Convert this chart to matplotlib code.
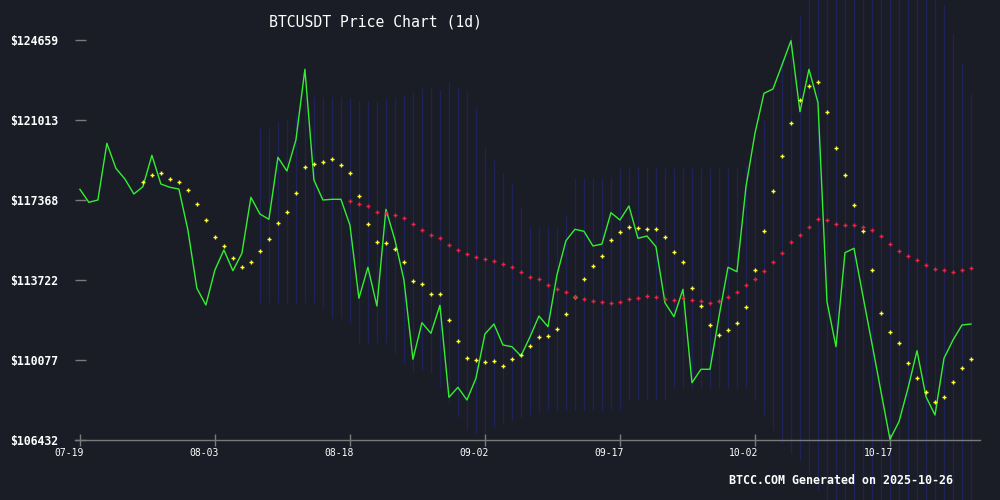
import numpy as np
import pandas as pd
import matplotlib
matplotlib.use("Agg")
import matplotlib.pyplot as plt
import matplotlib.dates as mdates
import matplotlib.transforms as mtransforms

# daily closes 2025-07-19 .. 2025-10-26
close = [117856, 117263, 117368, 119952, 118813, 118325, 117642, 117974, 119405, 118097,
         117947, 117869, 116001, 113345, 112584, 114178, 115090, 114147, 114940, 117491,
         116730, 116489, 119314, 118690, 120102, 123324, 118280, 117368, 117400, 117400,
         116229, 112889, 114302, 112538, 116944, 115546, 113723, 110109, 111777, 111294,
         112570, 108378, 108833, 108255, 109244, 111262, 111718, 110761, 110684, 110260,
         111126, 112082, 111595, 113951, 115514, 116033, 115942, 115272, 115363, 116790,
         116457, 117095, 115623, 115728, 115240, 112688, 112051, 113299, 109043, 109654,
         109654, 112051, 114302, 114101, 117974, 120408, 122230, 122426, 123520, 124627,
         121392, 123324, 121802, 112734, 110684, 114967, 115167, 112980, 110820, 108633,
         106464, 107266, 108788, 110501, 108405, 107571, 110155, 110989, 111672, 111718]

# short moving average (yellow), starts on day 7
ma_short = [118175, 118494, 118585, 118312, 118175, 117810, 117172, 116443, 115669, 115258,
            114712, 114302, 114529, 115031, 115577, 116307, 116808, 117674, 118858, 118995,
            119086, 119223, 118949, 118585, 117537, 116261, 115441, 115395, 115122, 114529,
            113664, 113527, 113071, 113071, 111886, 110930, 110155, 110064, 109973, 110018,
            109790, 110109, 110292, 110715, 111112, 111157, 111476, 112160, 112948, 113755,
            114347, 114803, 115532, 115896, 116124, 116079, 116033, 116033, 115669, 114985,
            114529, 113345, 112524, 111659, 111203, 111431, 111750, 112479, 114178, 115942,
            117765, 119360, 120863, 121911, 122549, 122732, 121365, 119724, 118494, 117127,
            115942, 114178, 112205, 111340, 110838, 109927, 109244, 108606, 108150, 108378,
            109061, 109699, 110109]

# long moving average (red), starts on day 30
ma_long = [117309, 117172, 117081, 116808, 116790, 116671, 116534, 116261, 115987, 115760,
           115623, 115304, 115076, 114894, 114757, 114666, 114575, 114438, 114302, 114074,
           113882, 113755, 113481, 113299, 113162, 112935, 112843, 112752, 112707, 112661,
           112707, 112843, 112889, 112980, 112935, 112843, 112798, 112889, 112798, 112752,
           112661, 112752, 112935, 113162, 113481, 113777, 114119, 114529, 114940, 115441,
           115760, 116124, 116489, 116443, 116261, 116215, 116215, 116124, 115987, 115714,
           115350, 115031, 114803, 114620, 114393, 114210, 114165, 114074, 114165, 114256]

# band (blue vertical lines), starts on day 20
band_upper = [120649, 120649, 120922, 121014, 121241, 122062, 122062, 122062, 122062, 122062,
              122016, 121879, 121879, 121879, 122016, 122016, 122153, 122244, 122472, 122472,
              122381, 122745, 122517, 122289, 121560, 119783, 119191, 118599, 118143, 117049,
              116138, 116138, 116138, 116138, 116685, 118371, 118371, 118371, 118371, 118371,
              118826, 118826, 118826, 118826, 118826, 118826, 118826, 118826, 118826, 118826,
              118826, 118826, 118826, 118826, 118963, 119647, 121014, 122381, 123748, 124887,
              125798, 127393, 127393, 127393, 127393, 127393, 127393, 127393, 127393, 127393,
              127393, 127393, 127393, 127393, 127393, 127393, 126254, 124978, 123611, 122244]
band_lower = [112675, 112675, 112675, 112675, 112675, 112675, 112675, 112493, 111991, 111991,
              111763, 110852, 110852, 110852, 110852, 110396, 109941, 109485, 109622, 109485,
              108847, 108118, 107480, 106888, 106751, 106751, 107024, 107207, 107343, 107480,
              107571, 107708, 107799, 107799, 107799, 107799, 107799, 107799, 107799, 107799,
              107799, 108255, 108255, 108255, 108255, 108255, 108802, 108802, 108802, 108802,
              108802, 108802, 108802, 108802, 108802, 108255, 107571, 106888, 106300, 105800,
              105521, 104837, 104154, 102787, 102787, 102787, 102787, 102787, 102787, 102787,
              102787, 102787, 102787, 102787, 102787, 102787, 102787, 102787, 102787, 102787]

y_ticks = [106432, 110077, 113722, 117368, 121013, 124659]
x_tick_labels = ["07-19", "08-03", "08-18", "09-02", "09-17", "10-02", "10-17"]

dates = pd.date_range("2025-07-19", periods=len(close), freq="D")
bg = "#1b1d26"
mono = "DejaVu Sans Mono"

fig = plt.figure(figsize=(10, 5), dpi=100, facecolor=bg)
ax = fig.add_axes([0.075, 0.12, 0.905, 0.8], facecolor=bg)

# band drawn as thin dark-blue vertical lines, not clipped to the axes
ax.vlines(dates[20:], band_lower, band_upper, colors="#1f2258", linewidth=0.9,
          zorder=1, clip_on=False)
ax.plot(dates, close, color="#33ee33", linewidth=1.0, zorder=3)
ax.plot(dates[7:], ma_short, linestyle="none", marker="+", markersize=3.2,
        markeredgewidth=1.0, color="#ffff33", zorder=4)
ax.plot(dates[30:], ma_long, linestyle="none", marker="+", markersize=3.2,
        markeredgewidth=1.0, color="#ee2244", zorder=4)

ax.set_xlim(dates[0] - pd.Timedelta(hours=13), dates[-1] + pd.Timedelta(days=1))
ax.set_ylim(y_ticks[0], y_ticks[-1])

for s in ["top", "right", "left"]:
    ax.spines[s].set_visible(False)
ax.spines["bottom"].set_color("#7a7a7a")
ax.spines["bottom"].set_linewidth(1.0)

ax.set_yticks(y_ticks)
ax.set_yticklabels(["$%d" % v for v in y_ticks], fontfamily=mono,
                   fontweight="bold", fontsize=8.3, color="white")
ax.tick_params(axis="y", direction="in", length=8, width=1, color="#7a7a7a", pad=12)

x_ticks = [pd.Timestamp("2025-" + t) for t in x_tick_labels]
ax.set_xticks(x_ticks)
ax.set_xticklabels(x_tick_labels, fontfamily=mono, fontsize=7, color="white")
ax.tick_params(axis="x", direction="inout", length=8, width=1, color="#7a7a7a", pad=2)
shift = mtransforms.ScaledTranslation(-11 / 100, 0, fig.dpi_scale_trans)
for lab in ax.get_xticklabels():
    lab.set_transform(lab.get_transform() + shift)

fig.text(0.269, 0.956, "BTCUSDT Price Chart (1d)", fontfamily=mono, fontsize=10.6,
         color="white", ha="left", va="center")
fig.text(0.953, 0.04, "BTCC.COM Generated on 2025-10-26", fontfamily=mono,
         fontweight="bold", fontsize=8.4, color="white", ha="right", va="center")

fig.savefig("out.png", dpi=100, facecolor=bg)
